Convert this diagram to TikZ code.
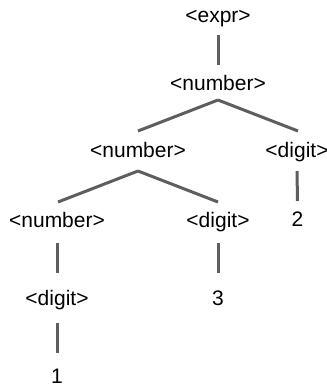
\documentclass[tikz,border=0pt]{standalone}
\usepackage{fontspec}
\setmainfont{Liberation Sans}
\begin{document}
\begin{tikzpicture}[x=1bp,y=-1bp,
  lbl/.style={anchor=base,inner sep=0pt,font=\fontsize{21bp}{24bp}\selectfont,text=black},
  edge/.style={draw=black!63,line width=3bp}]
\useasboundingbox (0,0) rectangle (327,386);
\node[lbl] (expr)  at (218,22)  {<expr>};
\node[lbl] (num1)  at (218,90)  {<number>};
\node[lbl] (num2)  at (138,157) {<number>};
\node[lbl] (digA)  at (297,157) {<digit>};
\node[lbl] (num3)  at (57,227)  {<number>};
\node[lbl] (digB)  at (218,227) {<digit>};
\node[lbl] (two)   at (297.5,226.5) {2};
\node[lbl] (digC)  at (57,305)  {<digit>};
\node[lbl] (three) at (218,305) {3};
\node[lbl] (one)   at (57,383)  {1};
\draw[edge] ([yshift=-13bp]expr.base) -- ([yshift=25bp]num1.base);
\draw[edge] ([yshift=-10bp]num1.base) -- ([yshift=26bp]num2.base);
\draw[edge] ([yshift=-10bp]num1.base) -- ([yshift=26bp,xshift=1bp]digA.base);
\draw[edge] ([yshift=-14bp]digA.base) -- ([yshift=25.5bp]two.base);
\draw[edge] ([yshift=-14bp]num2.base) -- ([yshift=25bp,xshift=1bp]num3.base);
\draw[edge] ([yshift=-14bp]num2.base) -- ([yshift=25bp]digB.base);
\draw[edge] ([yshift=-16bp]num3.base) -- ([yshift=32bp]digC.base);
\draw[edge] ([yshift=-16bp]digB.base) -- ([yshift=32bp]three.base);
\draw[edge] ([yshift=-18bp]digC.base) -- ([yshift=30bp]one.base);
\end{tikzpicture}
\end{document}
